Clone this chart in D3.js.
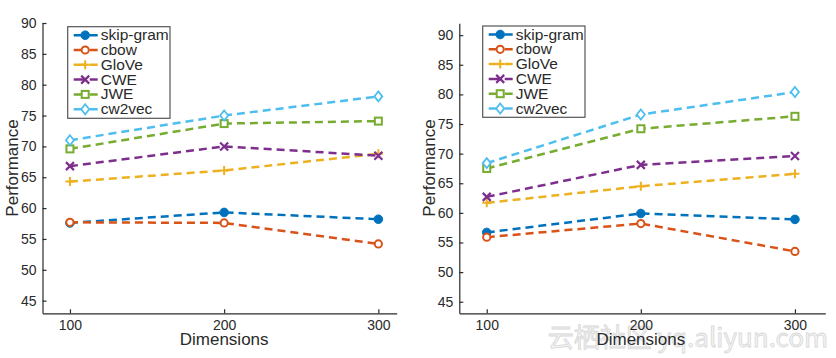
<!DOCTYPE html>
<html><head><meta charset="utf-8">
<script src="https://cdn.jsdelivr.net/npm/d3@7"></script>
<style>body{margin:0;background:#fff}svg{display:block}</style>
</head><body>
<script>
const dimensions = [100, 200, 300];
const seriesNames = ["skip-gram", "cbow", "GloVe", "CWE", "JWE", "cw2vec"];
const yTicks = [45, 50, 55, 60, 65, 70, 75, 80, 85, 90];
// left panel values
const leftSkipGram = [57.6, 59.3, 58.2];
const leftCbow     = [57.7, 57.6, 54.2];
const leftGloVe    = [64.3, 66.1, 68.8];
const leftCWE      = [66.8, 70.0, 68.5];
const leftJWE      = [69.6, 73.7, 74.1];
const leftCw2vec   = [71.0, 75.0, 78.1];
// right panel values
const rightSkipGram = [56.7, 59.9, 58.9];
const rightCbow     = [55.9, 58.2, 53.5];
const rightGloVe    = [61.7, 64.5, 66.6];
const rightCWE      = [62.7, 68.1, 69.6];
const rightJWE      = [67.5, 74.2, 76.3];
const rightCw2vec   = [68.4, 76.6, 80.4];

const colors = ["#0072BD", "#D95319", "#EDB120", "#7E2F8E", "#77AC30", "#4DBEEE"];
const markers = ["dot", "circle", "plus", "cross", "square", "diamond"];
const ink = "#2a2a2a";
const font = "'Liberation Sans', Arial, sans-serif";

const svg = d3.select("body").append("svg").attr("width", 836).attr("height", 358);

const panels = [
  {x0: 42.5, x1: 396.7, xDom: [82.2, 311.9], y0: 22.7, y1: 313.3, yDom: [42.95, 90.05],
   vals: [leftSkipGram, leftCbow, leftGloVe, leftCWE, leftJWE, leftCw2vec],
   legend: {x: 67.7, y: 26.7, w: 102.3, h: 91.6}, ylabX: 11.7},
  {x0: 459.3, x1: 825.3, xDom: [82.2, 319.7], y0: 23.3, y1: 313.3, yDom: [43.05, 92.0],
   vals: [rightSkipGram, rightCbow, rightGloVe, rightCWE, rightJWE, rightCw2vec],
   legend: {x: 482.7, y: 26.0, w: 102.3, h: 91.3}, ylabX: 429}
];

// watermark (drawn first, faint, behind chart text)
svg.append("text").attr("x", 828).attr("y", 347).attr("text-anchor", "end")
  .attr("fill", "#f4f4f4").attr("stroke", "#d8d8d8").attr("stroke-width", 0.8)
  .style("font-family", "'Noto Sans CJK SC', sans-serif")
  .style("font-size", "26px").text("云栖社区 yq.aliyun.com");

function drawMarker(g, type, color, cx, cy) {
  const s = 4;
  if (type === "dot") {
    g.append("circle").attr("cx", cx).attr("cy", cy).attr("r", 4.3).attr("fill", color).attr("stroke", color);
  } else if (type === "circle") {
    g.append("circle").attr("cx", cx).attr("cy", cy).attr("r", 3.6).attr("fill", "#fff").attr("stroke", color).attr("stroke-width", 2);
  } else if (type === "plus") {
    g.append("path").attr("d", `M${cx-s-0.5},${cy}H${cx+s+0.5}M${cx},${cy-s-0.5}V${cy+s+0.5}`).attr("stroke", color).attr("stroke-width", 2).attr("fill", "none");
  } else if (type === "cross") {
    g.append("path").attr("d", `M${cx-s},${cy-s}L${cx+s},${cy+s}M${cx-s},${cy+s}L${cx+s},${cy-s}`).attr("stroke", color).attr("stroke-width", 2.2).attr("fill", "none");
  } else if (type === "square") {
    g.append("rect").attr("x", cx-3.5).attr("y", cy-3.5).attr("width", 7).attr("height", 7).attr("fill", "#fff").attr("stroke", color).attr("stroke-width", 2);
  } else if (type === "diamond") {
    g.append("path").attr("d", `M${cx},${cy-5}L${cx+4},${cy}L${cx},${cy+5}L${cx-4},${cy}Z`).attr("fill", "#fff").attr("stroke", color).attr("stroke-width", 1.8);
  }
}

panels.forEach(p => {
  const x = d3.scaleLinear().domain(p.xDom).range([p.x0, p.x1]);
  const y = d3.scaleLinear().domain(p.yDom).range([p.y1, p.y0]);
  const g = svg.append("g");

  const yAxis = d3.axisLeft(y).tickValues(yTicks).tickSizeInner(-4).tickSizeOuter(0).tickPadding(6);
  const xAxis = d3.axisBottom(x).tickValues(dimensions).tickSizeInner(-4).tickSizeOuter(0).tickPadding(7);
  const gy = g.append("g").attr("transform", `translate(${p.x0},0)`).call(yAxis);
  const gx = g.append("g").attr("transform", `translate(0,${p.y1})`).call(xAxis);
  [gx, gy].forEach(a => {
    a.select(".domain").attr("stroke", ink).attr("stroke-width", 1.2);
    a.selectAll(".tick line").attr("stroke", ink).attr("stroke-width", 1.2);
    a.selectAll(".tick text").attr("fill", ink).style("font-family", font).style("font-size", "14px");
  });

  g.append("text").attr("x", (x(100)+x(300))/2).attr("y", 345).attr("text-anchor", "middle")
    .attr("fill", ink).style("font-family", font).style("font-size", "17px").text("Dimensions");
  g.append("text").attr("transform", `translate(${p.ylabX + 6},168) rotate(-90)`).attr("text-anchor", "middle")
    .attr("fill", ink).style("font-family", font).style("font-size", "17px").text("Performance");

  const line = d3.line().x((d, i) => x(dimensions[i])).y(d => y(d));
  p.vals.forEach((vals, si) => {
    g.append("path").datum(vals).attr("d", line).attr("fill", "none")
      .attr("stroke", colors[si]).attr("stroke-width", 2.5).attr("stroke-dasharray", "8,5");
    vals.forEach((v, i) => drawMarker(g, markers[si], colors[si], x(dimensions[i]), y(v)));
  });

  const L = p.legend;
  const lg = g.append("g");
  lg.append("rect").attr("x", L.x).attr("y", L.y).attr("width", L.w).attr("height", L.h)
    .attr("fill", "#fff").attr("stroke", "#555").attr("stroke-width", 1.2);
  seriesNames.forEach((name, si) => {
    const cy = L.y + 8.5 + si * 14.8;
    lg.append("path").attr("d", `M${L.x+6},${cy}H${L.x+30}`).attr("stroke", colors[si])
      .attr("stroke-width", 2.5).attr("stroke-dasharray", "13,3,5,0").attr("fill", "none");
    drawMarker(lg, markers[si], colors[si], L.x + 17.5, cy);
    lg.append("text").attr("x", L.x + 33).attr("y", cy + 5).attr("fill", ink)
      .style("font-family", font).style("font-size", "15.5px").text(name);
  });
});
</script>
</body></html>
